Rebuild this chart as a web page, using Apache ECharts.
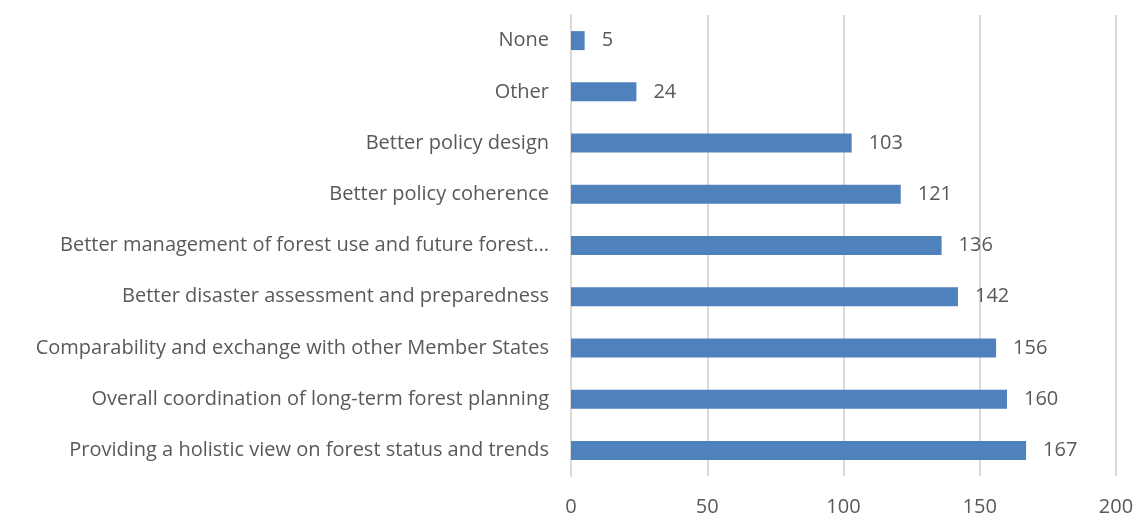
<!DOCTYPE html>
<html>
<head>
<meta charset="utf-8">
<script src="https://cdn.jsdelivr.net/npm/echarts@6/dist/echarts.min.js"></script>
<style>
  html, body { margin: 0; padding: 0; background: #fff; }
  #chart { width: 1134px; height: 513px; }
</style>
</head>
<body>
<div id="chart"></div>
<script>
// categories bottom -> top (category axis draws first item at the bottom)
var categories = [
    'Providing a holistic view on forest status and trends',
    'Overall coordination of long-term forest planning',
    'Comparability and exchange with other Member States',
    'Better disaster assessment and preparedness',
    'Better management of forest use and future forest...',
    'Better policy coherence',
    'Better policy design',
    'Other',
    'None'
];
var counts = [167, 160, 156, 142, 136, 121, 103, 24, 5];
var xTicks = [0, 50, 100, 150, 200];

var textColor = '#595959';
var gridColor = '#d9d9d9';

var option = {
    animation: false,
    textStyle: { fontFamily: 'Open Sans' },
    grid: {
        left: 571,
        right: 18,
        top: 15,
        bottom: 37,
        containLabel: false,
        outerBoundsMode: 'none'
    },
    xAxis: {
        type: 'value',
        min: xTicks[0],
        max: xTicks[xTicks.length - 1],
        interval: 50,
        axisLine: { show: false },
        axisTick: { show: false },
        axisLabel: { color: textColor, fontSize: 20, margin: 21 },
        splitLine: { show: true, lineStyle: { color: gridColor, width: 2 } }
    },
    yAxis: {
        type: 'category',
        data: categories,
        axisLine: { show: true, lineStyle: { color: gridColor, width: 2 } },
        axisTick: { show: false },
        axisLabel: { color: textColor, fontSize: 20, margin: 22 },
        splitLine: { show: false }
    },
    series: [
        {
            type: 'bar',
            data: counts,
            barWidth: 19,
            itemStyle: { color: '#4f81bd' },
            label: {
                show: true,
                position: 'right',
                distance: 17,
                color: textColor,
                fontSize: 20,
                fontFamily: 'Open Sans'
            }
        }
    ]
};

var chart = echarts.init(document.getElementById('chart'));
chart.setOption(option);
window.addEventListener('resize', chart.resize);
</script>
</body>
</html>
